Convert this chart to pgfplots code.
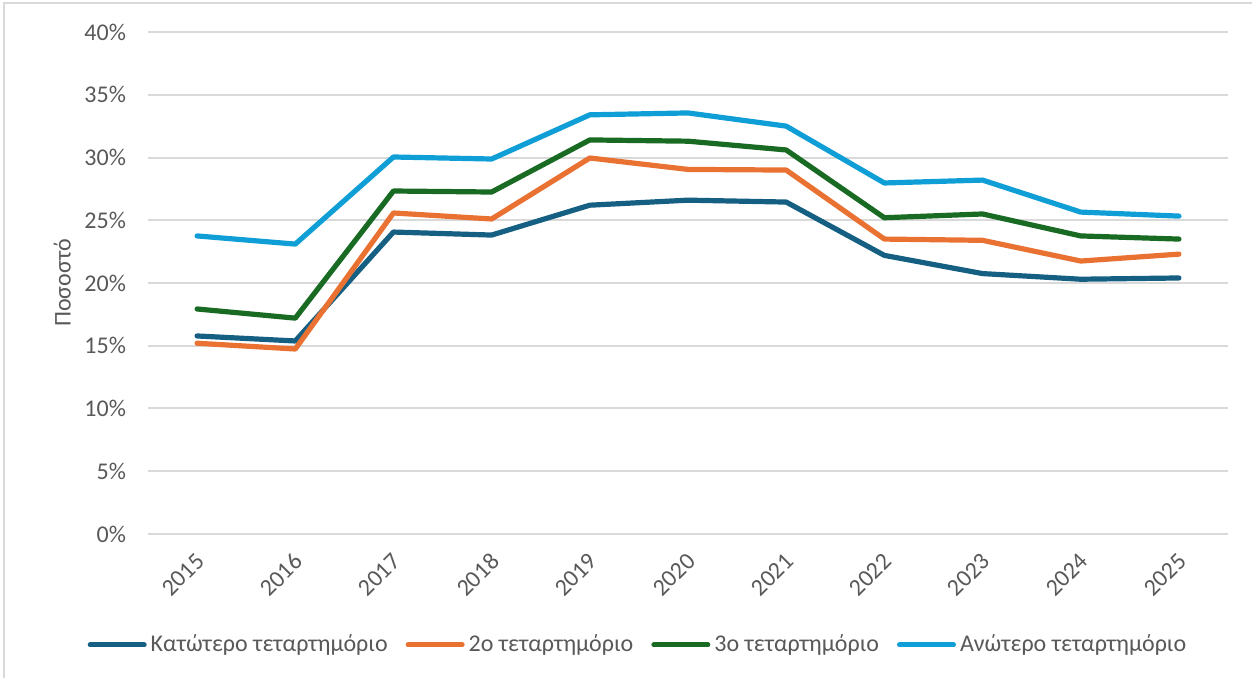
\documentclass[border=0pt]{standalone}
\usepackage{pgfplots}
\pgfplotsset{compat=1.18}
\usepackage{fontspec}
\setmainfont{Carlito}
\definecolor{cA}{HTML}{156082}
\definecolor{cB}{HTML}{E97132}
\definecolor{cC}{HTML}{196B24}
\definecolor{cD}{HTML}{0F9ED5}
\definecolor{txt}{HTML}{595959}
\definecolor{grd}{HTML}{D9D9D9}
\begin{document}
\begin{tikzpicture}
\begin{axis}[
  at={(0,0)}, anchor=south west,
  scale only axis, width=540pt, height=251pt,
  xmin=2014.5, xmax=2025.5, ymin=0, ymax=40,
  xtick={2015,2016,2017,2018,2019,2020,2021,2022,2023,2024,2025},
  xticklabels={2015,2016,2017,2018,2019,2020,2021,2022,2023,2024,2025},
  ytick={0,5,10,15,20,25,30,35,40},
  yticklabels={0\%,5\%,10\%,15\%,20\%,25\%,30\%,35\%,40\%},
  ymajorgrids, grid style={color=grd, line width=1pt},
  axis line style={draw=none}, tick style={draw=none},
  /pgf/number format/assume math mode=true,
  every tick label/.append style={font=\fontsize{12}{14}\selectfont, text=txt},
  yticklabel style={xshift=-7.5pt},
  xticklabel style={rotate=45, anchor=east, xshift=-6pt, yshift=-9.5pt, inner sep=1pt},
  ylabel={Ποσοστό},
  ylabel style={at={(axis description cs:-0.0795,0.5)}, anchor=center, font=\fontsize{12}{14}\selectfont, text=txt},
  legend columns=4,
  legend style={draw=none, at={(axis description cs:0.4546,-0.221)}, anchor=center,
    font=\fontsize{12}{14}\selectfont, text=txt,
    /tikz/every even column/.append style={column sep=7pt}},
  legend image code/.code={\draw[#1, line width=2.5pt, line cap=round] (0pt,0pt) -- (27pt,0pt);},
  every axis plot/.append style={line width=2.6pt, line cap=round, line join=round, mark=none},
]
\addplot[cA] coordinates {(2015,15.78)(2016,15.38)(2017,24.06)(2018,23.82)(2019,26.2)(2020,26.6)(2021,26.45)(2022,22.2)(2023,20.75)(2024,20.3)(2025,20.4)};
\addlegendentry{Κατώτερο τεταρτημόριο}
\addplot[cB] coordinates {(2015,15.2)(2016,14.74)(2017,25.58)(2018,25.1)(2019,29.96)(2020,29.05)(2021,29.0)(2022,23.5)(2023,23.4)(2024,21.75)(2025,22.3)};
\addlegendentry{2ο τεταρτημόριο}
\addplot[cC] coordinates {(2015,17.93)(2016,17.2)(2017,27.33)(2018,27.25)(2019,31.4)(2020,31.3)(2021,30.6)(2022,25.2)(2023,25.5)(2024,23.75)(2025,23.5)};
\addlegendentry{3ο τεταρτημόριο}
\addplot[cD] coordinates {(2015,23.75)(2016,23.1)(2017,30.04)(2018,29.88)(2019,33.4)(2020,33.55)(2021,32.5)(2022,27.97)(2023,28.2)(2024,25.65)(2025,25.33)};
\addlegendentry{Ανώτερο τεταρτημόριο}
\end{axis}
\draw[grd, line width=0.75pt] (-72pt,-72pt) -- (-72pt,265.5pt) -- (552pt,265.5pt);
\pgfresetboundingbox
\path[use as bounding box] (-74pt,-72pt) rectangle (552pt,267pt);
\end{tikzpicture}
\end{document}
